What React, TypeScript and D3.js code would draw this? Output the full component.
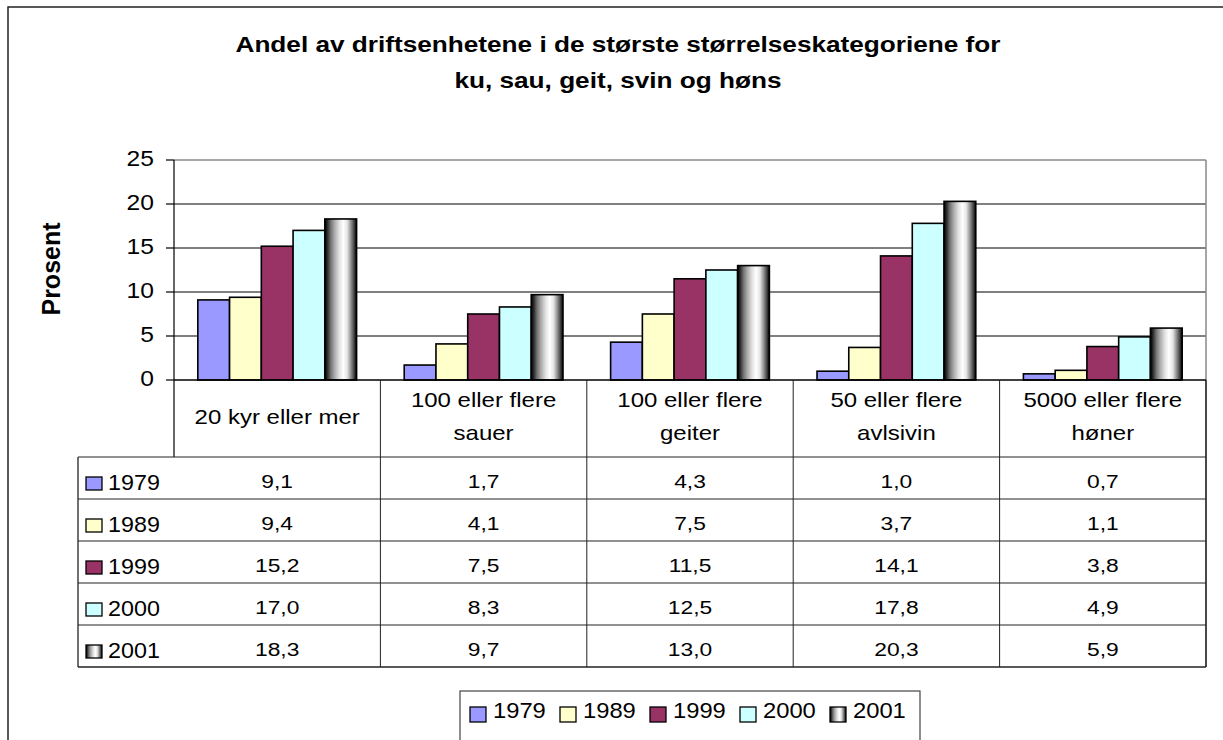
import React from "react";
import * as d3 from "d3";

const titleLines = [
  "Andel av driftsenhetene i de største størrelseskategoriene for",
  "ku, sau, geit, svin og høns",
];
const yAxisLabel = "Prosent";
const categories = [
  "20 kyr eller mer",
  "100 eller flere sauer",
  "100 eller flere geiter",
  "50 eller flere avlsivin",
  "5000 eller flere høner",
];
const categoryLines = [
  ["20 kyr eller mer"],
  ["100 eller flere", "sauer"],
  ["100 eller flere", "geiter"],
  ["50 eller flere", "avlsivin"],
  ["5000 eller flere", "høner"],
];
const seriesNames = ["1979", "1989", "1999", "2000", "2001"];
const values1979 = [9.1, 1.7, 4.3, 1.0, 0.7];
const values1989 = [9.4, 4.1, 7.5, 3.7, 1.1];
const values1999 = [15.2, 7.5, 11.5, 14.1, 3.8];
const values2000 = [17.0, 8.3, 12.5, 17.8, 4.9];
const values2001 = [18.3, 9.7, 13.0, 20.3, 5.9];
const seriesValues = [values1979, values1989, values1999, values2000, values2001];
const yTicks = [0, 5, 10, 15, 20, 25];
const seriesFills = ["#9999FF", "#FFFFCC", "#993366", "#CCFFFF", "url(#cyl)"];

const FONT = "'Liberation Sans', Arial, Helvetica, sans-serif";

function T({ x, y, size, sx = 1, anchor = "middle", bold = false, rotate = 0, children }: any) {
  return (
    <text
      transform={`translate(${x},${y}) rotate(${rotate}) scale(${sx},1)`}
      fontSize={size}
      fontFamily={FONT}
      fontWeight={bold ? "bold" : "normal"}
      textAnchor={anchor}
      fill="#000"
    >
      {children}
    </text>
  );
}

const fmt = (v: number) => d3.format(".1f")(v).replace(".", ",");

export default function App() {
  const W = 1223;
  const H = 740;
  const plotL = 174;
  const plotR = 1206;
  const plotT = 160;
  const plotB = 380;
  const headerB = 457;
  const rowH = 42;
  const tableL = 78;

  const x = d3.scaleBand<string>().domain(categories).range([plotL, plotR]).padding(0);
  const xi = d3
    .scaleBand<string>()
    .domain(seriesNames)
    .range([0, x.bandwidth()])
    .paddingInner(0)
    .paddingOuter(0.75);
  const y = d3.scaleLinear().domain([0, 25]).range([plotB, plotT]);

  const rowTop = (i: number) => headerB + i * rowH;
  const tableB = rowTop(seriesNames.length);

  const swatch = (i: number, sx: number, sy: number, w: number, h: number) => (
    <rect x={sx} y={sy} width={w} height={h} fill={seriesFills[i]} stroke="#000" strokeWidth={1.3} />
  );

  return (
    <svg
      width={W}
      height={H}
      style={{ position: "absolute", left: 0, top: 0, background: "#fff" }}
    >
      <defs>
        <linearGradient id="cyl" x1="0" y1="0" x2="1" y2="0">
          <stop offset="0" stopColor="#000" />
          <stop offset="0.08" stopColor="#2a2a2a" />
          <stop offset="0.18" stopColor="#707070" />
          <stop offset="0.3" stopColor="#a8a8a8" />
          <stop offset="0.45" stopColor="#e0e0e0" />
          <stop offset="0.58" stopColor="#ffffff" />
          <stop offset="0.7" stopColor="#e6e6e6" />
          <stop offset="0.8" stopColor="#a0a0a0" />
          <stop offset="0.9" stopColor="#555" />
          <stop offset="1" stopColor="#000" />
        </linearGradient>
      </defs>
      <rect x={0} y={0} width={W} height={H} fill="#fff" />
      {/* outer chart border (clipped on right/bottom) */}
      <rect x={8} y={7} width={W + 20} height={H + 20} fill="none" stroke="#222" strokeWidth={1.5} />

      {/* title */}
      {titleLines.map((t, i) => (
        <T key={i} x={618} y={52 + i * 36} size={22} sx={1.19} bold>
          {t}
        </T>
      ))}

      {/* y axis label */}
      <T x={60} y={269} size={25} bold rotate={-90}>
        {yAxisLabel}
      </T>

      {/* gridlines */}
      {yTicks
        .filter((t) => t > 0 && t < 25)
        .map((t) => (
          <line key={t} x1={plotL} x2={plotR} y1={y(t)} y2={y(t)} stroke="#000" strokeWidth={1} />
        ))}
      {/* plot border top/right */}
      <line x1={plotL} x2={plotR} y1={plotT} y2={plotT} stroke="#888" strokeWidth={1.5} />
      <line x1={plotR} x2={plotR} y1={plotT} y2={plotB} stroke="#888" strokeWidth={1.5} />

      {/* bars */}
      {categories.map((c, ci) => (
        <g key={c} transform={`translate(${x(c)},0)`}>
          {seriesNames.map((s, si) => {
            const v = seriesValues[si][ci];
            return (
              <rect
                key={s}
                x={xi(s)}
                y={y(v)}
                width={xi.bandwidth()}
                height={y(0) - y(v)}
                fill={seriesFills[si]}
                stroke="#000"
                strokeWidth={1.6}
              />
            );
          })}
        </g>
      ))}

      {/* y axis */}
      <line x1={plotL} x2={plotL} y1={plotT} y2={headerB} stroke="#000" strokeWidth={1.2} />
      {yTicks.map((t) => (
        <g key={t}>
          <line x1={plotL - 8} x2={plotL} y1={y(t)} y2={y(t)} stroke="#000" strokeWidth={1.2} />
          <T x={154} y={y(t) + 6} size={22} sx={1.12} anchor="end">
            {t}
          </T>
        </g>
      ))}
      <line x1={plotL} x2={plotR} y1={plotB} y2={plotB} stroke="#000" strokeWidth={1.4} />

      {/* data table */}
      {categories.map((c) => (
        <line key={c} x1={(x(c) as number) + x.bandwidth()} x2={(x(c) as number) + x.bandwidth()} y1={plotB} y2={tableB} stroke="#222" strokeWidth={1} />
      ))}
      <line x1={plotR} x2={plotR} y1={plotB} y2={tableB} stroke="#222" strokeWidth={1.3} />
      <line x1={tableL} x2={tableL} y1={headerB} y2={tableB} stroke="#222" strokeWidth={1.3} />
      {seriesNames.map((s, i) => (
        <line key={s} x1={tableL} x2={plotR} y1={rowTop(i)} y2={rowTop(i)} stroke="#222" strokeWidth={1} />
      ))}
      <line x1={tableL} x2={plotR} y1={tableB} y2={tableB} stroke="#222" strokeWidth={1.3} />

      {/* category labels */}
      {categories.map((c, ci) => {
        const cx = (x(c) as number) + x.bandwidth() / 2;
        const lines = categoryLines[ci];
        return lines.map((ln, li) => (
          <T key={c + li} x={cx} y={lines.length === 1 ? 424 : 407 + li * 33} size={20} sx={1.2}>
            {ln}
          </T>
        ));
      })}

      {/* row keys and values */}
      {seriesNames.map((s, si) => (
        <g key={s}>
          {swatch(si, 86, rowTop(si) + 20, 16, 13)}
          <T x={108} y={rowTop(si) + 33} size={22} sx={1.06} anchor="start">
            {s}
          </T>
          {categories.map((c, ci) => (
            <T key={c} x={(x(c) as number) + x.bandwidth() / 2} y={rowTop(si) + 31} size={19} sx={1.2}>
              {fmt(seriesValues[si][ci])}
            </T>
          ))}
        </g>
      ))}

      {/* legend */}
      <rect x={460} y={691} width={460} height={50} fill="#fff" stroke="#444" strokeWidth={1.2} />
      {seriesNames.map((s, i) => (
        <g key={s}>
          {swatch(i, 470 + i * 90, 707, 16, 15)}
          <T x={493 + i * 90} y={718} size={22} sx={1.08} anchor="start">
            {s}
          </T>
        </g>
      ))}
    </svg>
  );
}
